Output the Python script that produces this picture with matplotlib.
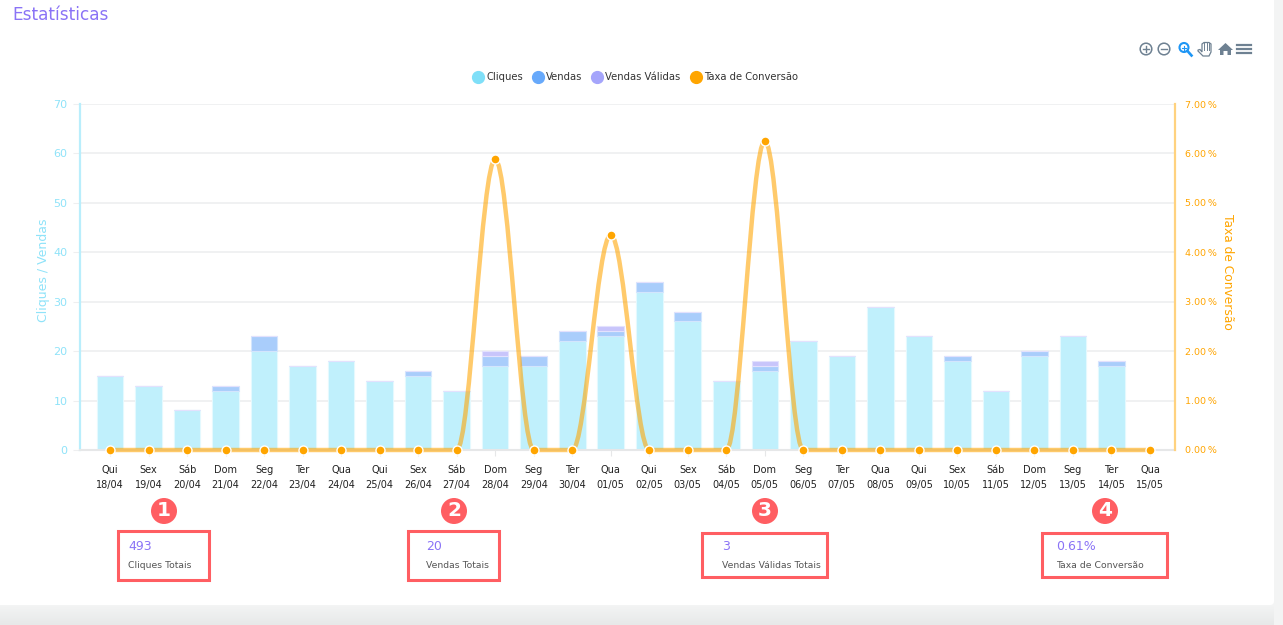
import matplotlib
matplotlib.use('Agg')
import matplotlib.pyplot as plt
import numpy as np
from matplotlib.lines import Line2D
from matplotlib.patches import Circle, FancyBboxPatch, PathPatch, Polygon, Rectangle
from matplotlib.path import Path

plt.rcParams['font.family'] = ['DejaVu Sans']

W, H = 1283, 625

dias = ['Qui', 'Sex', 'Sáb', 'Dom', 'Seg', 'Ter', 'Qua', 'Qui', 'Sex', 'Sáb', 'Dom', 'Seg', 'Ter', 'Qua',
        'Qui', 'Sex', 'Sáb', 'Dom', 'Seg', 'Ter', 'Qua', 'Qui', 'Sex', 'Sáb', 'Dom', 'Seg', 'Ter', 'Qua']
datas = ['18/04', '19/04', '20/04', '21/04', '22/04', '23/04', '24/04', '25/04', '26/04', '27/04',
         '28/04', '29/04', '30/04', '01/05', '02/05', '03/05', '04/05', '05/05', '06/05', '07/05',
         '08/05', '09/05', '10/05', '11/05', '12/05', '13/05', '14/05', '15/05']
cliques = [15, 13, 8, 12, 20, 17, 18, 14, 15, 12, 17, 17, 22, 23, 32, 26, 14, 16, 22, 19, 29, 23, 18, 12, 19, 23, 17, 0]
vendas = [0, 0, 0, 1, 3, 0, 0, 0, 1, 0, 2, 2, 2, 1, 2, 2, 0, 1, 0, 0, 0, 0, 1, 0, 1, 0, 1, 0]
validas = [0, 0, 0, 0, 0, 0, 0, 0, 0, 0, 1, 0, 0, 1, 0, 0, 0, 1, 0, 0, 0, 0, 0, 0, 0, 0, 0, 0]
taxa = [0, 0, 0, 0, 0, 0, 0, 0, 0, 0, 5.88, 0, 0, 4.35, 0, 0, 0, 6.25, 0, 0, 0, 0, 0, 0, 0, 0, 0, 0]

resumo_valores = ['493', '20', '3', '0.61%']
resumo_nomes = ['Cliques Totais', 'Vendas Totais', 'Vendas Válidas Totais', 'Taxa de Conversão']

ROXO = '#8a73f6'
VERMELHO = '#ff5e62'
CIANO = '#8fe3f9'
LARANJA = '#ffa500'
ICONE = '#6e8192'

fig = plt.figure(figsize=(W / 100, H / 100), dpi=100, facecolor='#f3f4f4')

# fundo em pixels: cartao branco, sombra, anotacoes
bg = fig.add_axes([0, 0, 1, 1], zorder=0)
bg.set_xlim(0, W)
bg.set_ylim(H, 0)
bg.axis('off')
sombra = np.linspace(0, 1, 20).reshape(-1, 1)
bg.imshow(sombra, extent=(0, 1274, 625, 605), cmap=matplotlib.colors.LinearSegmentedColormap.from_list(
    's', ['#f3f4f4', '#e7e9e9']), aspect='auto', zorder=1)
bg.set_xlim(0, W)
bg.set_ylim(H, 0)
bg.add_patch(FancyBboxPatch((-10, -10), 1284, 615, boxstyle='round,pad=0,rounding_size=4',
                            fc='white', ec='none', zorder=2))
bg.text(12, 15, 'Estatísticas', color=ROXO, fontsize=12.2, va='center', ha='left', zorder=3)

# eixos do grafico
x0, x1, y0, y1 = 80, 1175, 450, 104
ax = fig.add_axes([x0 / W, 1 - y0 / H, (x1 - x0) / W, (y0 - y1) / H], zorder=2)
ax.patch.set_visible(False)
x = np.arange(len(dias))
ax.set_xlim(-0.78, 27.65)
ax.set_ylim(0, 70)
cli = np.array(cliques)
ven = np.array(vendas)
val = np.array(validas)
ax.bar(x, cliques, width=0.69, color='#c0f0fc', edgecolor='#e4f9fe', linewidth=0.8, zorder=2)
ax.bar(x, vendas, width=0.69, bottom=cli, color='#a9cdfb', edgecolor='#d3e5fd', linewidth=0.8, zorder=2)
ax.bar(x, validas, width=0.69, bottom=cli + ven, color='#c8c5fb', edgecolor='#e3e1fd', linewidth=0.8, zorder=2)
ax.set_yticks(range(0, 71, 10))
ax.grid(axis='y', color='#eeeff0', linewidth=1.2, zorder=0)
ax.set_axisbelow(True)
ax.set_xticks(x)
ax.set_xticklabels([d + '\n' + s for d, s in zip(dias, datas)], fontsize=7, color='#222222', linespacing=1.6)
ax.tick_params(axis='x', length=4, color='#e6e7e8', pad=7)
ax.tick_params(axis='y', length=5, color='#eeeff0', labelcolor=CIANO, labelsize=8, pad=4)
for lado in ['top', 'right']:
    ax.spines[lado].set_visible(False)
ax.spines['left'].set_color('#b9eefc')
ax.spines['left'].set_linewidth(1.6)
ax.spines['bottom'].set_color('#e6e7e8')
ax.spines['bottom'].set_linewidth(1.5)

ax2 = ax.twinx()
ax2.patch.set_visible(False)
ax2.set_ylim(0, 7)
ax2.set_yticks(range(0, 8))
ax2.set_yticklabels(['%d.00\u2009%%' % v for v in range(0, 8)])
ax2.tick_params(axis='y', length=0, labelcolor=LARANJA, labelsize=6.8, pad=7)
for lado in ['top', 'left', 'bottom']:
    ax2.spines[lado].set_visible(False)
ax2.spines['right'].set_color('#ffd27f')
ax2.spines['right'].set_linewidth(1.6)

# linha suavizada por curvas de bezier entre os valores
verts = [(x[0], taxa[0])]
codes = [Path.MOVETO]
for i in range(len(taxa) - 1):
    verts += [(x[i] + 0.35, taxa[i]), (x[i + 1] - 0.35, taxa[i + 1]), (x[i + 1], taxa[i + 1])]
    codes += [Path.CURVE4] * 3
ax2.add_patch(PathPatch(Path(verts, codes), fc='none', ec=LARANJA, alpha=0.58, lw=3.2, zorder=3, clip_on=False))
ax2.scatter(x, taxa, s=42, color=LARANJA, edgecolor='white', linewidth=1.0, zorder=4, clip_on=False)

ax.set_ylabel('Cliques / Vendas', color=CIANO, fontsize=9, va='center')
ax.yaxis.set_label_coords((44 - x0) / (x1 - x0), (y0 - 270) / (y0 - y1))
ax2.set_ylabel('Taxa de Conversão', color=LARANJA, fontsize=8.8, rotation=270, va='center')
ax2.yaxis.set_label_coords((1228 - x0) / (x1 - x0), (y0 - 272) / (y0 - y1))

# legenda
handles = [Line2D([], [], ls='', marker='o', ms=8.5, color=c, label=n) for c, n in
           [('#7fdff8', 'Cliques'), ('#67a9fb', 'Vendas'), ('#a5a5fb', 'Vendas Válidas'),
            (LARANJA, 'Taxa de Conversão')]]
fig.legend(handles=handles, loc='center', bbox_to_anchor=(635 / W, 1 - 77 / H), ncol=4, frameon=False,
           fontsize=7.2, handlelength=1.2, handletextpad=0.2, columnspacing=0.9, labelcolor='#333333')

# quadros de resumo
caixas = [(118, 531, 91, 49), (408, 531, 91, 49), (702, 533, 125, 44), (1042, 533, 125, 44)]
badges = [(164, 511), (454, 511), (765, 511), (1105, 511)]
textos_x = [128, 426, 722, 1056]
for i in range(4):
    bx, by, bw, bh = caixas[i]
    bg.add_patch(Rectangle((bx, by), bw, bh, fc='none', ec=VERMELHO, lw=2.2, zorder=3))
    bg.add_patch(Circle(badges[i], 13, fc=VERMELHO, ec='none', zorder=3))
    bg.text(badges[i][0], badges[i][1], str(i + 1), color='white', fontsize=14.5, fontweight='bold',
            ha='center', va='center', zorder=4)
    bg.text(textos_x[i], 547, resumo_valores[i], color=ROXO, fontsize=9, va='center', zorder=4)
    bg.text(textos_x[i], 566, resumo_nomes[i], color='#555555', fontsize=6.7, va='center', zorder=4)

# icones da barra de ferramentas
def lente(cx, cy, sinal, cor):
    bg.add_patch(Circle((cx, cy), 5.8, fc='none', ec=cor, lw=1.1, zorder=3))
    bg.plot([cx - 3, cx + 3], [cy, cy], color=cor, lw=1.0, zorder=3)
    if sinal:
        bg.plot([cx, cx], [cy - 3, cy + 3], color=cor, lw=1.0, zorder=3)

lente(1146, 49, True, ICONE)
lente(1164, 49, False, ICONE)
bg.add_patch(Circle((1184, 47.5), 4.5, fc='none', ec='#1e96f5', lw=1.5, zorder=3))
bg.plot([1187.5, 1191.5], [51, 55.5], color='#1e96f5', lw=1.9, zorder=3)
bg.plot([1182, 1186], [47.5, 47.5], color='#1e96f5', lw=0.8, zorder=3)
bg.plot([1184, 1184], [45.5, 49.5], color='#1e96f5', lw=0.8, zorder=3)
bg.add_patch(Polygon([(1198, 50), (1200, 49.5), (1202, 52), (1202, 44), (1204, 42.5), (1209, 42.5), (1211, 44),
                      (1211, 52), (1209, 56), (1203, 56), (1198, 51)], closed=True,
                     fc='white', ec=ICONE, lw=0.9, zorder=3))
for xx in [1204.3, 1206.5, 1208.7]:
    bg.plot([xx, xx], [43, 50], color=ICONE, lw=0.7, zorder=4)
bg.add_patch(Polygon([(1218, 50), (1225.5, 43), (1233, 50), (1231, 50), (1231, 55), (1227.5, 55), (1227.5, 51),
                      (1223.5, 51), (1223.5, 55), (1220, 55), (1220, 50)], closed=True, fc=ICONE, ec='none', zorder=3))
for yy in [45, 49, 53]:
    bg.plot([1237, 1251], [yy, yy], color=ICONE, lw=1.6, zorder=3)

fig.savefig('out.png', dpi=100, facecolor=fig.get_facecolor())
